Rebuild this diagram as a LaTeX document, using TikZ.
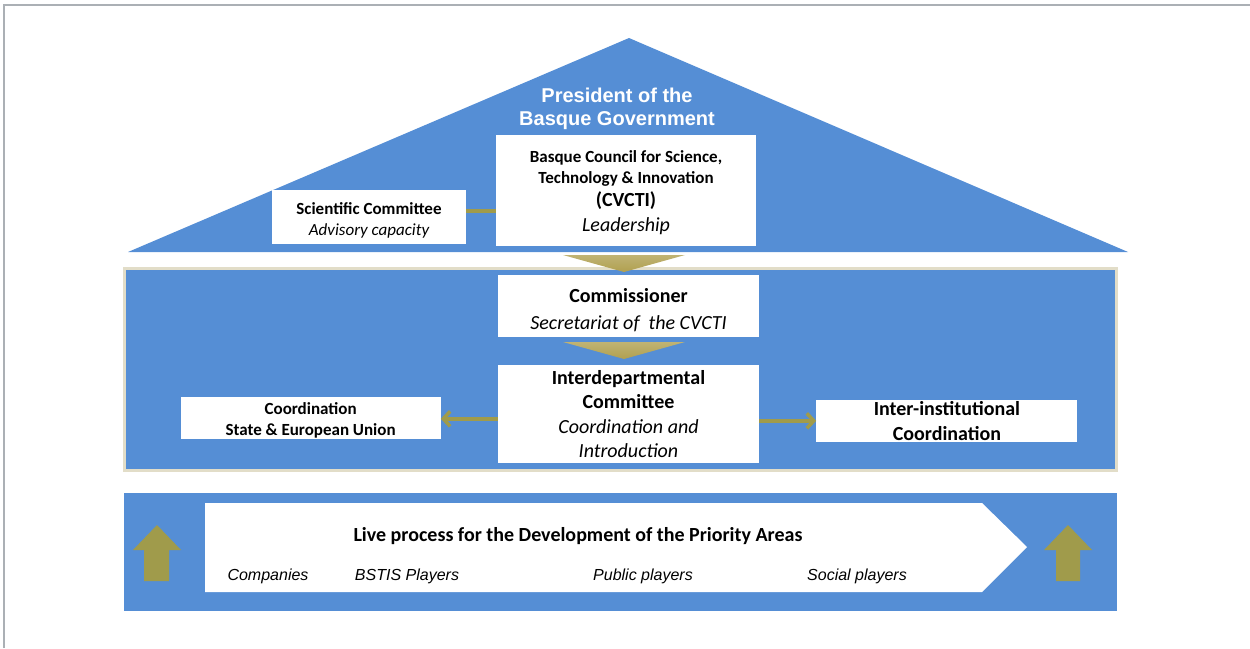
\documentclass[tikz,border=0pt]{standalone}
\usepackage{fontspec}
\setmainfont{Carlito}
\newfontfamily\arialfont{Liberation Sans}
\usetikzlibrary{positioning, arrows.meta, calc}
\definecolor{houseblue}{RGB}{85,142,213}
\definecolor{olivegold}{RGB}{160,155,75}
\definecolor{panelrim}{RGB}{226,221,200}
\definecolor{framegray}{RGB}{171,176,181}
\definecolor{goldlight}{RGB}{242,234,196}
\definecolor{golddark}{RGB}{176,160,80}
\tikzstyle{whitebox} = [rectangle, fill=white, text centered, align=center, inner sep=0pt]
\tikzstyle{boxtext} = [font=\fontsize{17}{21}\selectfont]
\tikzstyle{bigtext} = [font=\fontsize{20}{24.5}\selectfont]
\tikzstyle{playertext} = [font=\arialfont\itshape\fontsize{16}{19}\selectfont]
\tikzstyle{link} = [draw=olivegold, line width=3.5pt]
\tikzstyle{linkarrow} = [link, -{Straight Barb[length=7pt, width=15pt]}]
\tikzstyle{goldwedge} = [top color=golddark!80, middle color=goldlight, bottom color=golddark, shading angle=0]
\tikzstyle{uparrow} = [fill=olivegold]

\begin{document}
\begin{tikzpicture}[x=1pt, y=-1pt, node distance=27pt]
    \useasboundingbox (0,0) rectangle (1250,648);
    % Frame
    \draw [line width=2pt, framegray] (4,648) -- (4,5) -- (1250,5);

    % House
    \fill [houseblue] (128,252) -- (629,38) -- (1128,252) -- cycle;
    \filldraw [fill=houseblue, draw=panelrim, line width=3pt] (124.5,268.5) rectangle (1116.5,470);
    \fill [houseblue] (124,493) rectangle (1117,611);

    % Nodes
    \node (president) [font=\arialfont\bfseries\fontsize{20}{23}\selectfont, text=white, align=center] at (617,109) {President of the\\Basque Government};
    \node (council) [whitebox, boxtext, minimum width=260pt, minimum height=111pt] at (626,190.5)
        {\rule{0pt}{16pt}\bfseries Basque Council for Science,\\ \bfseries Technology \& Innovation\\[2pt] \fontsize{20}{24}\selectfont\bfseries (CVCTI)\\[4pt] \fontsize{20}{27}\selectfont\itshape Leadership};
    \node (science) [whitebox, boxtext, minimum width=194pt, minimum height=54pt] at (369,217)
        {\rule{0pt}{18pt}\bfseries Scientific Committee\\ \itshape Advisory capacity};
    \node (commissioner) [whitebox, bigtext, font=\fontsize{20}{27}\selectfont, minimum width=261pt, minimum height=62pt, below=29pt of council, xshift=2.5pt]
        {\rule{0pt}{22pt}\bfseries Commissioner\\ \itshape Secretariat of~ the CVCTI};
    \node (interdept) [whitebox, bigtext, minimum width=261pt, minimum height=98pt, below=27pt of commissioner]
        {\bfseries Interdepartmental\\ \bfseries Committee\\ \itshape Coordination and\\ \itshape Introduction};
    \node (statecoord) [whitebox, boxtext, minimum width=260pt, minimum height=42pt, left=57pt of interdept, yshift=-4pt]
        {\rule{0pt}{18pt}\bfseries Coordination\\ \bfseries State \& European Union};
    \node (intercoord) [whitebox, bigtext, minimum width=261pt, minimum height=42pt, right=57pt of interdept, yshift=-7pt]
        {\bfseries Inter-institutional\\ \bfseries Coordination};

    % Gold wedges
    \shade [goldwedge] (563,255) -- (685,255) -- (624,272) -- cycle;
    \shade [goldwedge] (563,342) -- (685,342) -- (624,359) -- cycle;

    % Connectors
    \draw [link] ([yshift=6pt]science.east) -- ([yshift=6pt]science.east -| council.west);
    \draw [linkarrow] ([yshift=-5pt]interdept.west) -- ([yshift=-5pt]interdept.west -| statecoord.east);
    \draw [linkarrow] ([yshift=-7pt]interdept.east) -- ([yshift=-7pt]interdept.east -| intercoord.west);

    % Live process
    \fill [white] (205,503) -- (982,503) -- (1027,547) -- (982,592) -- (205,592) -- cycle;
    \node (process) [font=\bfseries\fontsize{20}{24}\selectfont] at (578,536) {Live process for the Development of the Priority Areas};
    \node (companies) [playertext] at (268,576) {Companies};
    \node (bstis) [playertext] at (407,576) {BSTIS Players};
    \node (public) [playertext] at (643,576) {Public players};
    \node (social) [playertext] at (857,576) {Social players};

    % Up arrows
    \fill [uparrow] (144,581) -- (144,550) -- (133,550) -- (157,525) -- (181,550) -- (169,550) -- (169,581) -- cycle;
    \fill [uparrow] (1056,581) -- (1056,550) -- (1044,550) -- (1068,525) -- (1092,550) -- (1080,550) -- (1080,581) -- cycle;
\end{tikzpicture}
\end{document}
